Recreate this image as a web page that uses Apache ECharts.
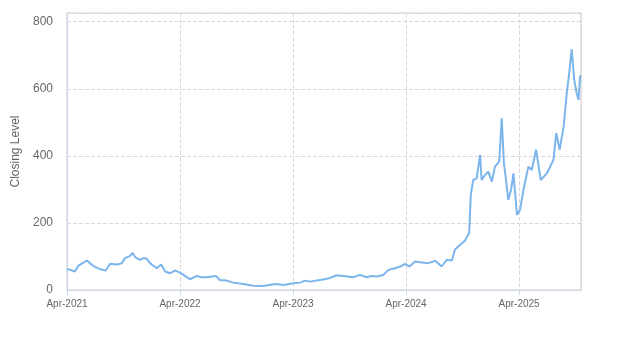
<!DOCTYPE html>
<html>
<head>
<meta charset="utf-8">
<script src="https://cdn.jsdelivr.net/npm/echarts@6/dist/echarts.min.js"></script>
<style>
  html, body { margin: 0; padding: 0; background: #fff; }
  #main { width: 623px; height: 350px; }
</style>
</head>
<body>
<div id="main"></div>
<script>
// closing level
var dates = [
  '2021-04-01','2021-04-27','2021-05-07','2021-06-04','2021-06-24','2021-07-17','2021-08-04','2021-08-18',
  '2021-09-09','2021-09-25','2021-10-05','2021-10-21','2021-10-30','2021-11-07','2021-11-23','2021-12-03',
  '2021-12-14','2021-12-25','2022-01-16','2022-01-30','2022-02-12','2022-02-28','2022-03-16','2022-04-01',
  '2022-04-17','2022-05-03','2022-05-25','2022-06-10','2022-06-26','2022-07-26','2022-08-08','2022-08-30',
  '2022-09-20','2022-10-23','2022-11-23','2022-12-26','2023-02-02','2023-03-01','2023-04-02','2023-04-24',
  '2023-05-10','2023-05-26','2023-06-27','2023-07-24','2023-08-20','2023-09-10','2023-10-13','2023-11-03',
  '2023-11-25','2023-12-11','2023-12-27','2024-01-18','2024-02-03','2024-02-24','2024-03-12','2024-03-28',
  '2024-04-11','2024-04-29','2024-05-21','2024-06-11','2024-07-03','2024-07-24','2024-08-09','2024-08-26',
  '2024-09-05','2024-09-21','2024-10-07','2024-10-21','2024-10-26','2024-11-03','2024-11-14','2024-11-25',
  '2024-11-30','2024-12-11','2024-12-22','2025-01-02','2025-01-12','2025-01-26','2025-02-03','2025-02-10',
  '2025-02-17','2025-02-24','2025-03-05','2025-03-13','2025-03-24','2025-04-03','2025-04-14','2025-04-30',
  '2025-05-11','2025-05-25','2025-06-09','2025-06-29','2025-07-20','2025-07-29','2025-08-09','2025-08-22',
  '2025-09-01','2025-09-09','2025-09-17','2025-09-25','2025-10-03','2025-10-09','2025-10-14','2025-10-17'
];
var closing = [
  63, 55, 72, 88, 72, 62, 58, 78,
  76, 80, 95, 101, 111, 98, 90, 95,
  94, 80, 65, 76, 55, 50, 58, 52,
  42, 32, 42, 38, 38, 42, 30, 28,
  22, 18, 13, 12, 18, 15, 20, 22,
  28, 25, 30, 34, 44, 42, 38, 45,
  38, 42, 40, 45, 60, 65, 70, 78,
  70, 85, 82, 80, 87, 70, 90, 88,
  121, 134, 147, 171, 284, 328, 333, 403,
  328, 343, 353, 323, 368, 383, 512, 378,
  328, 269, 298, 348, 224, 239, 298, 368,
  358, 418, 328, 348, 388, 468, 418, 488,
  587, 647, 718, 627, 587, 567, 637, 640
];
var yTicks = [0, 200, 400, 600, 800];
var months = ['Jan','Feb','Mar','Apr','May','Jun','Jul','Aug','Sep','Oct','Nov','Dec'];

var DAY = 86400000;
var xMin = Date.UTC(2021, 3, 1);
var xMax = Date.UTC(2025, 9, 17);

var seriesData = [];
for (var i = 0; i < dates.length; i++) {
  var p = dates[i].split('-');
  seriesData.push([Date.UTC(+p[0], +p[1] - 1, +p[2]), closing[i]]);
}

var myChart = echarts.init(document.getElementById('main'));
myChart.setOption({
  animation: false,
  grid: {
    left: 67, right: 42, top: 13, bottom: 60,
    show: true, borderColor: '#cccccc', borderWidth: 1
  },
  xAxis: {
    type: 'value',
    min: xMin,
    max: xMax,
    interval: 365 * DAY,
    axisLine: { show: true, lineStyle: { color: '#ccd6eb' } },
    axisTick: { show: true, length: 5, lineStyle: { color: '#ccd6eb' } },
    axisLabel: {
      showMaxLabel: false,
      color: '#666', fontSize: 10, fontFamily: 'Liberation Sans, Arial, sans-serif', margin: 9,
      formatter: function (v) {
        var d = new Date(v + 3 * DAY);
        return months[d.getUTCMonth()] + '-' + d.getUTCFullYear();
      }
    },
    splitLine: { show: true, lineStyle: { color: '#d8d8d8', type: 'dashed' } }
  },
  yAxis: {
    type: 'value',
    min: 0,
    max: 826,
    interval: 200,
    name: 'Closing Level',
    nameLocation: 'middle',
    nameGap: 40,
    nameTextStyle: { color: '#666', fontSize: 12, fontFamily: 'Liberation Sans, Arial, sans-serif' },
    axisLine: { show: true, lineStyle: { color: '#ccd6eb' } },
    axisTick: { show: false },
    axisLabel: {
      showMaxLabel: false,
      color: '#666', fontSize: 12, fontFamily: 'Liberation Sans, Arial, sans-serif', margin: 14,
      formatter: function (v) { return yTicks.indexOf(v) >= 0 ? String(v) : ''; }
    },
    splitLine: { show: true, lineStyle: { color: '#d8d8d8', type: 'dashed' } }
  },
  series: [{
    name: 'Closing Level',
    type: 'line',
    showSymbol: false,
    data: seriesData,
    lineStyle: { color: '#7cb5ec', width: 2 },
    itemStyle: { color: '#7cb5ec' }
  }]
});
</script>
</body>
</html>
